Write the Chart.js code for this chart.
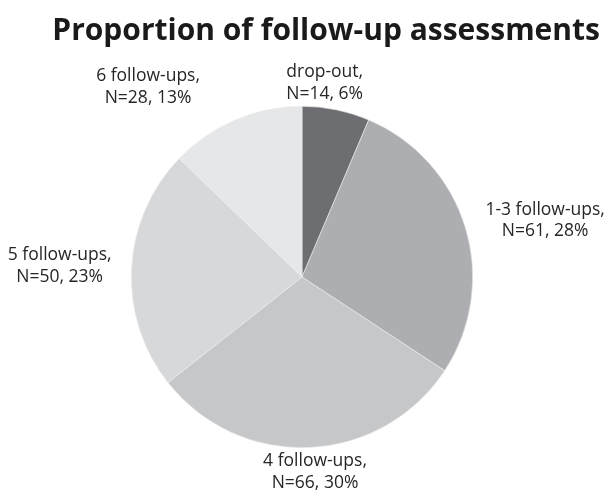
<!DOCTYPE html>
<html>
<head>
<meta charset="utf-8">
<script src="https://cdn.jsdelivr.net/npm/chart.js@4.4.1/dist/chart.umd.min.js"></script>
<style>
  html, body { margin: 0; padding: 0; background: #ffffff; }
  #wrap { width: 607px; height: 493px; }
</style>
</head>
<body>
<div id="wrap"><canvas id="followups" width="607" height="493"></canvas></div>
<script>
// Follow-up groups and participant counts
const groups = ['drop-out', '1-3 follow-ups', '4 follow-ups', '5 follow-ups', '6 follow-ups'];
const counts = [14, 61, 66, 50, 28];
const percents = [6, 28, 30, 23, 13];

const sliceColors = ['#6d6e71', '#adaeb1', '#c6c7c9', '#d7d8da', '#e6e7e8'];

// nudges applied to each outside label after anchoring it on the slice's mid angle
const labelNudge = [[-21, 4], [13, 2], [3, -7], [-10, -1], [-63, -4]];

const outsideLabels = {
    id: 'outsideLabels',
    afterDatasetsDraw(chart) {
        const ctx = chart.ctx;
        const meta = chart.getDatasetMeta(0);
        ctx.save();
        ctx.font = "17.5px 'Open Sans', sans-serif";
        ctx.fillStyle = '#262626';
        ctx.textAlign = 'center';
        ctx.textBaseline = 'middle';
        const lineH = 21.5;
        meta.data.forEach((arc, i) => {
            const mid = (arc.startAngle + arc.endAngle) / 2;
            const lines = [groups[i] + ',', 'N=' + counts[i] + ', ' + percents[i] + '%'];
            const w = Math.max(...lines.map(l => ctx.measureText(l).width));
            const h = lineH * lines.length;
            const r = arc.outerRadius + 10;
            const cos = Math.cos(mid), sin = Math.sin(mid);
            const cx = arc.x + r * cos + cos * w / 2 + labelNudge[i][0];
            const cy = arc.y + r * sin + sin * h / 2 + labelNudge[i][1];
            lines.forEach((l, k) => {
                ctx.fillText(l, cx, cy - h / 2 + lineH / 2 + k * lineH);
            });
        });
        ctx.restore();
    }
};

new Chart(document.getElementById('followups'), {
    type: 'pie',
    data: {
        labels: groups,
        datasets: [{
            data: counts,
            backgroundColor: sliceColors,
            borderColor: '#ececec',
            borderWidth: 0.6
        }]
    },
    options: {
        responsive: false,
        animation: false,
        layout: { padding: { top: 0, bottom: 45, left: 4, right: 7 } },
        plugins: {
            legend: { display: false },
            tooltip: { enabled: false },
            title: {
                display: true,
                text: 'Proportion of follow-up assessments',
                align: 'end',
                color: '#1a1a1a',
                font: { family: "'Open Sans', sans-serif", size: 30, weight: 'bold', lineHeight: 1.2 },
                padding: { top: 13, bottom: 57 }
            }
        }
    },
    plugins: [outsideLabels]
});
</script>
</body>
</html>
